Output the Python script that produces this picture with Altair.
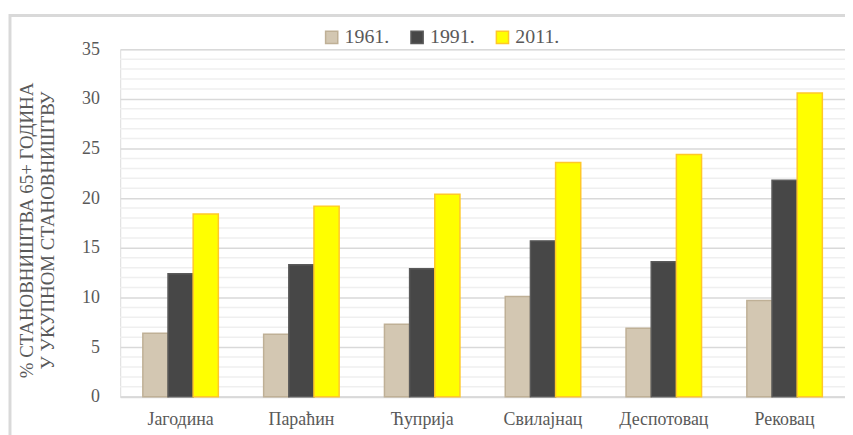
import altair as alt
import pandas as pd

towns = ["Јагодина", "Параћин", "Ћуприја", "Свилајнац", "Деспотовац", "Рековац"]
years = ["1961.", "1991.", "2011."]
v1961 = [6.4, 6.3, 7.3, 10.1, 6.9, 9.7]
v1991 = [12.4, 13.3, 12.9, 15.7, 13.6, 21.8]
v2011 = [18.4, 19.2, 20.4, 23.6, 24.4, 30.6]
minor_ticks = [v for v in range(1, 35) if v % 5 != 0]

rows = []
for i, t in enumerate(towns):
    for y, vals in zip(years, [v1961, v1991, v2011]):
        rows.append({"town": t, "year": y, "value": vals[i]})
df = pd.DataFrame(rows)

FONT = "Liberation Serif"
GRAY = "#595959"
W, H = 730, 350

fill_scale = alt.Scale(domain=years, range=["#d3c7b2", "#474747", "#ffff00"])
stroke_scale = alt.Scale(domain=years, range=["#bfb096", "#5a5a5a", "#ffc828"])

yaxis = alt.Axis(values=[0, 5, 10, 15, 20, 25, 30, 35],
                 title=["% СТАНОВНИШТВА 65+ ГОДИНА", "У УКУПНОМ СТАНОВНИШТВУ"],
                 titleFont=FONT, titleFontSize=19, titleFontWeight="normal",
                 titleColor=GRAY, titleAngle=-90, titleAlign="center",
                 titleBaseline="top", titleX=-103, titleY=182,
                 titleLineHeight=21,
                 labelFont=FONT, labelFontSize=18, labelColor=GRAY,
                 labelPadding=21, ticks=False, domain=False,
                 grid=True, gridColor="#d9d9d9", gridWidth=1.5)

minor = alt.Chart(pd.DataFrame({"value": minor_ticks})).mark_rule(
    color="#efefef", strokeWidth=1.5
).encode(y=alt.Y("value:Q", scale=alt.Scale(domain=[0, 35], nice=False), axis=yaxis))

bars = alt.Chart(df).mark_bar(strokeWidth=1.5).encode(
    x=alt.X("town:N", sort=towns,
            scale=alt.Scale(paddingInner=0, paddingOuter=0),
            axis=alt.Axis(title=None, labelAngle=0, labelFont=FONT, labelFontSize=18,
                          labelColor=GRAY, labelPadding=14, labelBaseline="top",
                          ticks=False, domainColor="#d9d9d9", domainWidth=2)),
    xOffset=alt.XOffset("year:N", sort=years,
                        scale=alt.Scale(paddingInner=0, paddingOuter=0.9)),
    y=alt.Y("value:Q", scale=alt.Scale(domain=[0, 35], nice=False), axis=yaxis),
    fill=alt.Fill("year:N", scale=fill_scale, sort=years,
                  legend=alt.Legend(title=None, orient="none", direction="horizontal",
                                    legendX=203, legendY=-22, symbolType="square",
                                    symbolSize=150, symbolStrokeWidth=1.5,
                                    labelFont=FONT, labelFontSize=20, labelColor=GRAY,
                                    labelOffset=3, columnPadding=18)),
    stroke=alt.Stroke("year:N", scale=stroke_scale, sort=years, legend=None),
)

border = alt.Chart(pd.DataFrame({"a": [0]})).mark_rect(
    fill=None, stroke="#d9d9d9", strokeWidth=3
).encode(x=alt.value(-111), x2=alt.value(W + 40), y=alt.value(-34), y2=alt.value(H + 80))

chart = alt.layer(minor, bars, border).properties(
    width=W, height=H,
    autosize=alt.AutoSizeParams(type="none"),
    padding={"left": 113, "top": 40, "right": 0, "bottom": 40},
).configure_view(stroke=None).configure(
    background="white", font=FONT
).configure_axis(labelFont=FONT, titleFont=FONT).configure_legend(labelFont=FONT)

chart.save("out.html", embed_options={"renderer": "svg", "actions": False})
